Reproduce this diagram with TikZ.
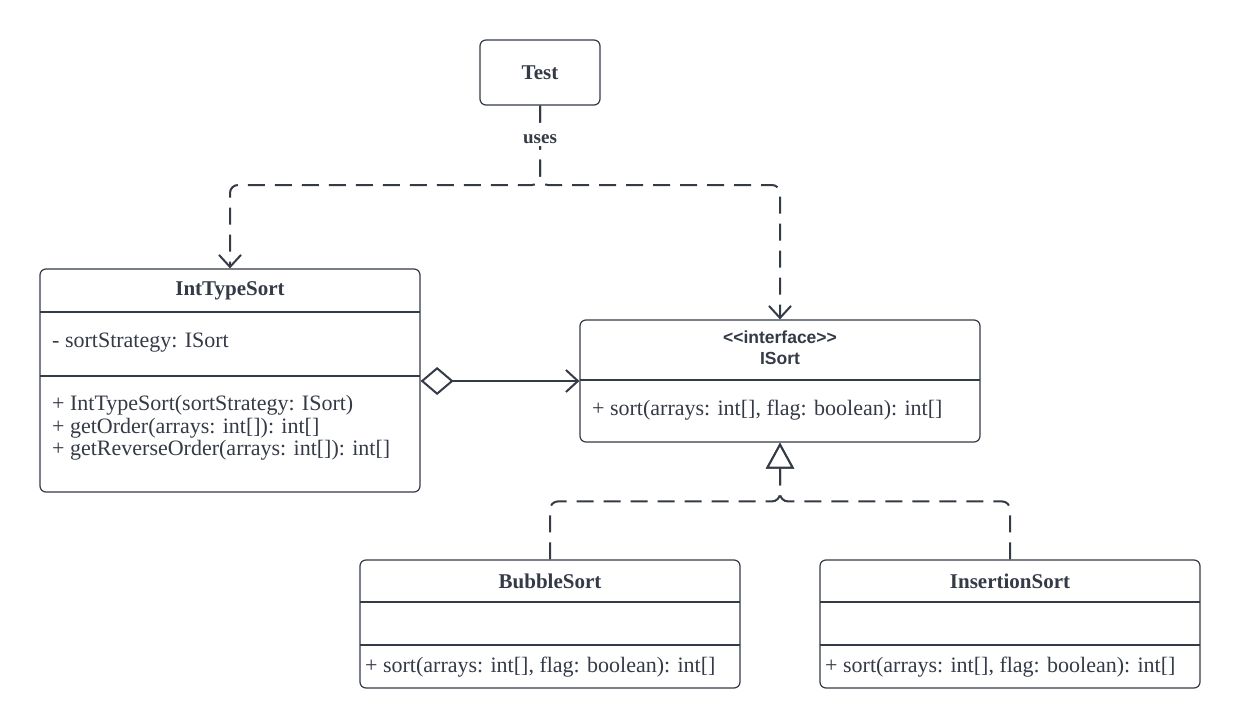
\documentclass[tikz,border=0pt]{standalone}
\usepackage{fontspec}
\setmainfont{Liberation Serif}
\newfontfamily\arialfont{Liberation Sans}
\usetikzlibrary{arrows.meta,calc}
\definecolor{ink}{HTML}{343A46}
\begin{document}
\begin{tikzpicture}[x=1pt,y=-1pt,
  classbox/.style={draw=ink,line width=1.2pt,rounded corners=6pt,fill=white,inner sep=0pt},
  divider/.style={draw=ink,line width=1.2pt},
  ctitle/.style={text=ink,font=\fontsize{21}{24}\selectfont\bfseries,inner sep=0pt},
  ctext/.style={text=ink,font=\fontsize{22}{22.5}\selectfont,inner sep=0pt,anchor=west,align=left},
  dep/.style={draw=ink,line width=2pt,dash pattern=on 17pt off 10pt,rounded corners=8pt},
  solidcon/.style={draw=ink,line width=2pt},
  vtip/.style={-{Straight Barb[length=12pt,width=22pt,line width=2pt]}},
]
\useasboundingbox[fill=white] (0,0) rectangle (1240,728);

% Test
\node[classbox,minimum width=120pt,minimum height=65pt] (test) at (540,72.5) {};
\node[ctitle] (testlbl) at (test) {Test};

% IntTypeSort
\node[classbox,minimum width=380pt,minimum height=223pt] (ints) at (230,380.5) {};
\node[ctitle] (intslbl) at (230,291) {IntTypeSort};
\draw[divider] (40,312) coordinate (id1a) -- (420,312) coordinate (id1b);
\draw[divider] (40,376) coordinate (id2a) -- (420,376) coordinate (id2b);
\node[ctext] (intsattr) at (52,343) {- sortStrategy: ISort};
\node[ctext] (intsops) at (52,428) {+ IntTypeSort(sortStrategy: ISort)\\+ getOrder(arrays: int[]): int[]\\+ getReverseOrder(arrays: int[]): int[]};

% ISort
\node[classbox,minimum width=400pt,minimum height=122pt] (isort) at (780,381) {};
\node[text=ink,font=\arialfont\fontsize{17.5}{21}\selectfont\bfseries,align=center,inner sep=0pt] (isortlbl) at (780,348) {<<interface>>\\ISort};
\draw[divider] (580,380) coordinate (sd1a) -- (980,380) coordinate (sd1b);
\node[ctext] (isortops) at (592,410) {+ sort(arrays: int[], flag: boolean): int[]};

% BubbleSort
\node[classbox,minimum width=380pt,minimum height=128pt] (bubble) at (550,624) {};
\node[ctitle] (bubblelbl) at (550,581) {BubbleSort};
\draw[divider] (360,602) coordinate (bd1a) -- (740,602) coordinate (bd1b);
\draw[divider] (360,645) coordinate (bd2a) -- (740,645) coordinate (bd2b);
\node[ctext] (bubbleops) at (365,667) {+ sort(arrays: int[], flag: boolean): int[]};

% InsertionSort
\node[classbox,minimum width=380pt,minimum height=128pt] (insert) at (1010,624) {};
\node[ctitle] (insertlbl) at (1010,581) {InsertionSort};
\draw[divider] (820,602) coordinate (nd1a) -- (1200,602) coordinate (nd1b);
\draw[divider] (820,645) coordinate (nd2a) -- (1200,645) coordinate (nd2b);
\node[ctext] (insertops) at (825,667) {+ sort(arrays: int[], flag: boolean): int[]};

% uses dependencies
\coordinate (j1) at (540,185);
\draw[dep,vtip] (test.south) -- (j1) -| (ints.north);
\draw[dep,vtip] (test.south) -- (j1) -| (isort.north);
\node[fill=white,text=ink,font=\fontsize{19}{22}\selectfont\bfseries,inner sep=2pt] (useslbl) at (540,139) {uses};

% aggregation
\draw[solidcon,{Diamond[open,length=33pt,width=28pt,fill=white]}-{Straight Barb[length=12pt,width=22pt]}] (ints.east |- isort.west) -- (isort.west);

% realization
\draw[dep,-{Triangle[open,length=26pt,width=28pt,fill=white]}] (bubble.north) -- ++(0,-58) -| (isort.south);
\draw[dep,-{Triangle[open,length=26pt,width=28pt,fill=white]}] (insert.north) -- ++(0,-58) -| (isort.south);
\end{tikzpicture}
\end{document}
